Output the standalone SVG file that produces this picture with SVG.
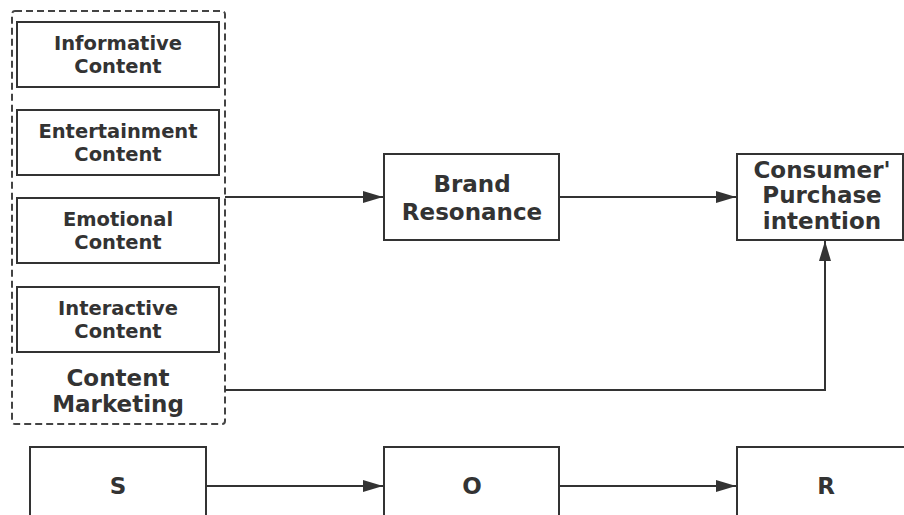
<svg xmlns="http://www.w3.org/2000/svg" width="904" height="515" viewBox="0 0 904 515">
<style>
.box{fill:#fff;stroke:#333;stroke-width:2}
.dash{fill:none;stroke:#444;stroke-width:2;stroke-dasharray:7,4}
.t{font-family:"DejaVu Sans","Noto Sans",sans-serif;font-weight:bold;fill:#333;text-anchor:middle}
.s{font-size:19.5px}
.l{font-size:23px}
.c{fill:none;stroke:#333;stroke-width:2}
</style>
<defs>
<marker id="a" viewBox="0 0 20 12" refX="20" refY="6" markerWidth="20" markerHeight="12" markerUnits="userSpaceOnUse" orient="auto">
<path d="M0,0 L20,6 L0,12 z" fill="#333"/>
</marker>
</defs>
<g id="content-marketing">
<rect class="dash" x="12" y="11" width="213" height="413" rx="3"/>
<text class="t l" x="118" y="386">Content</text>
<text class="t l" x="118" y="412">Marketing</text>
</g>
<g id="informative">
<rect class="box" x="17" y="22" width="202" height="65"/>
<text class="t s" x="118" y="50">Informative</text>
<text class="t s" x="118" y="73">Content</text>
</g>
<g id="entertainment">
<rect class="box" x="17" y="110" width="202" height="65"/>
<text class="t s" x="118" y="138">Entertainment</text>
<text class="t s" x="118" y="161">Content</text>
</g>
<g id="emotional">
<rect class="box" x="17" y="198" width="202" height="65"/>
<text class="t s" x="118" y="226">Emotional</text>
<text class="t s" x="118" y="249">Content</text>
</g>
<g id="interactive">
<rect class="box" x="17" y="287" width="202" height="65"/>
<text class="t s" x="118" y="315">Interactive</text>
<text class="t s" x="118" y="338">Content</text>
</g>
<g id="brand">
<rect class="box" x="384" y="154" width="175" height="86"/>
<text class="t l" x="472" y="192">Brand</text>
<text class="t l" x="472" y="220">Resonance</text>
</g>
<g id="consumer">
<rect class="box" x="737" y="154" width="166" height="86"/>
<text class="t l" x="822" y="178">Consumer'</text>
<text class="t l" x="822" y="203">Purchase</text>
<text class="t l" x="822" y="229">intention</text>
</g>
<g id="s">
<rect class="box" x="30" y="447" width="176" height="80"/>
<text class="t l" x="118" y="494">S</text>
</g>
<g id="o">
<rect class="box" x="384" y="447" width="175" height="80"/>
<text class="t l" x="472" y="494">O</text>
</g>
<g id="r">
<rect class="box" x="737" y="447" width="176" height="80"/>
<text class="t l" x="826" y="494">R</text>
</g>
<g id="connectors">
<path class="c" d="M225,197 H383" marker-end="url(#a)"/>
<path class="c" d="M559,197 H736" marker-end="url(#a)"/>
<path class="c" d="M225,390 H825 V241" marker-end="url(#a)"/>
<path class="c" d="M206,486 H383" marker-end="url(#a)"/>
<path class="c" d="M559,486 H736" marker-end="url(#a)"/>
</g>
</svg>
